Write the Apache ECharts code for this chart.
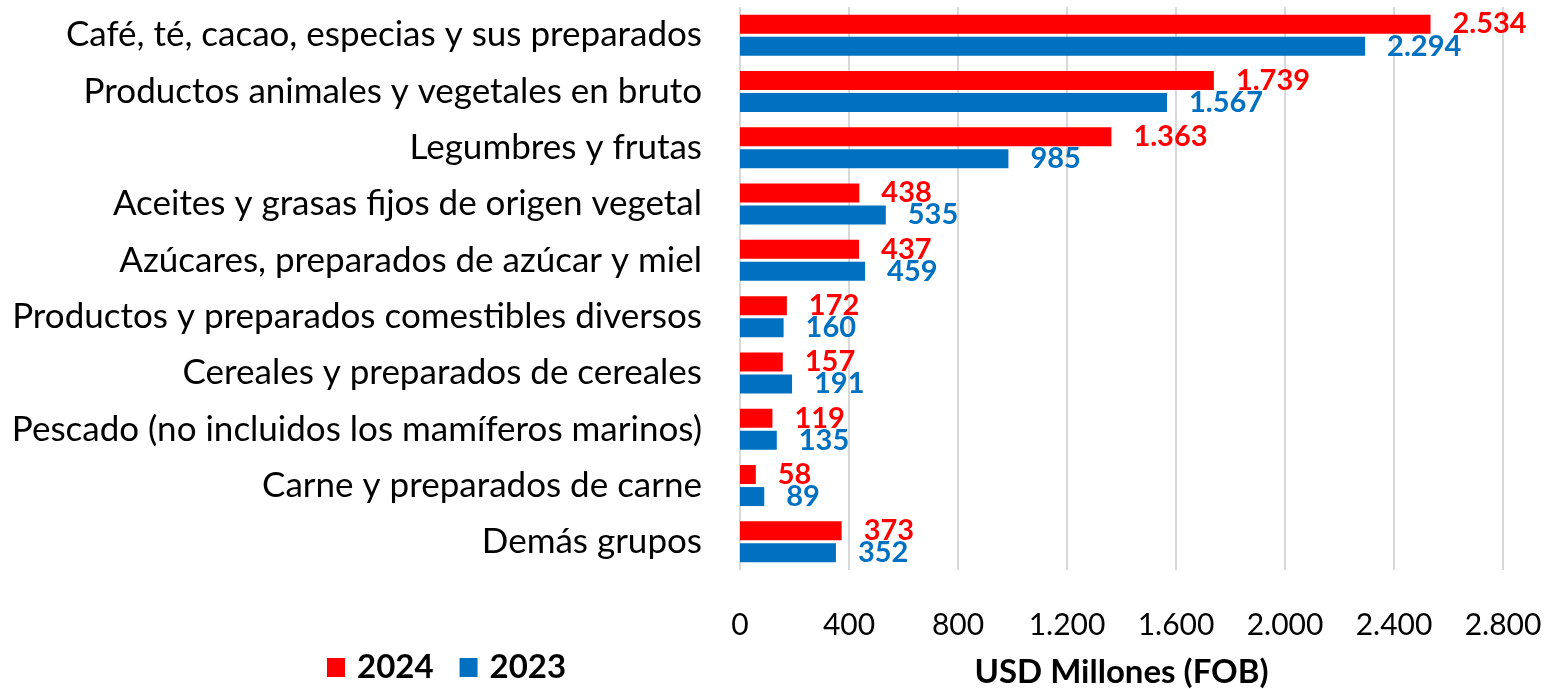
<!DOCTYPE html>
<html>
<head>
<meta charset="utf-8">
<script src="https://cdn.jsdelivr.net/npm/echarts@6/dist/echarts.min.js"></script>
<style>
  html, body { margin: 0; padding: 0; background: #fff; }
  #chart { width: 1559px; height: 689px; }
</style>
</head>
<body>
<div id="chart"></div>
<script>
const categories = [
  'Café, té, cacao, especias y sus preparados',
  'Productos animales y vegetales en bruto',
  'Legumbres y frutas',
  'Aceites y grasas fijos de origen vegetal',
  'Azúcares, preparados de azúcar y miel',
  'Productos y preparados comestibles diversos',
  'Cereales y preparados de cereales',
  'Pescado (no incluidos los mamíferos marinos)',
  'Carne y preparados de carne',
  'Demás grupos',
]
const values2024 = [2534, 1739, 1363, 438, 437, 172, 157, 119, 58, 373]
const values2023 = [2294, 1567, 985, 535, 459, 160, 191, 135, 89, 352]

const FONT = 'Lato'
const RED = '#ff0000'
const BLUE = '#0070c0'

// separador de miles con punto
const fmt = v => String(v).replace(/\B(?=(\d{3})+(?!\d))/g, '.')

const chart = echarts.init(document.getElementById('chart'))

const option = {
  animation: false,
  textStyle: { fontFamily: FONT },
  grid: { left: 740, right: 56, top: 7, bottom: 119, outerBoundsMode: 'none' },
  legend: {
    data: ['2024', '2023'],
    left: 322,
    bottom: 0,
    itemWidth: 18,
    itemHeight: 19,
    itemGap: 26,
    icon: 'rect',
    textStyle: { fontFamily: FONT, fontSize: 33, fontWeight: 'bold', color: '#000', padding: [0, 0, 0, 7] },
  },
  xAxis: {
    type: 'value',
    min: 0,
    max: 2800,
    interval: 400,
    name: 'USD Millones (FOB)',
    nameLocation: 'middle',
    nameGap: 86,
    nameTextStyle: { fontFamily: FONT, fontSize: 33, fontWeight: 'bold', color: '#000' },
    axisLine: { show: false },
    axisTick: { show: false },
    axisLabel: { formatter: fmt, fontSize: 30, color: '#000', margin: 40 },
    splitLine: { lineStyle: { color: '#d9d9d9', width: 2 } },
  },
  yAxis: {
    type: 'category',
    inverse: true,
    data: categories,
    axisLine: { show: false },
    axisTick: { show: false },
    axisLabel: { fontSize: 35, color: '#000', margin: 38 },
  },
  series: [
    {
      name: '2024',
      type: 'bar',
      data: values2024,
      barWidth: 19,
      barGap: '16%',
      itemStyle: { color: RED },
      label: {
        show: true,
        position: 'right',
        distance: 22,
        formatter: p => fmt(p.value),
        color: RED,
        fontSize: 29,
        fontWeight: 'bold',
      },
    },
    {
      name: '2023',
      type: 'bar',
      data: values2023,
      barWidth: 19,
      barGap: '16%',
      itemStyle: { color: BLUE },
      label: {
        show: true,
        position: 'right',
        distance: 22,
        formatter: p => fmt(p.value),
        color: BLUE,
        fontSize: 29,
        fontWeight: 'bold',
      },
    },
  ],
}

option && chart.setOption(option)
</script>
</body>
</html>
